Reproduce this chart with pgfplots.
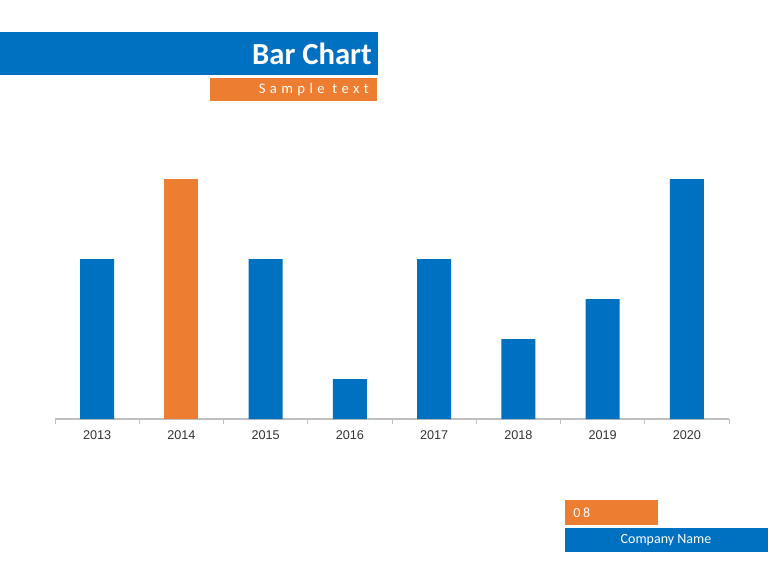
\documentclass[border=0pt]{standalone}
\usepackage{pgfplots}
\pgfplotsset{compat=1.18}
\usepackage{fontspec}
\setmainfont{Carlito}
\newfontfamily\arial{Liberation Sans}
\definecolor{cblue}{RGB}{0,112,192}
\definecolor{corange}{RGB}{237,125,49}
\definecolor{axgray}{RGB}{191,191,191}
\begin{document}
\begin{tikzpicture}
\begin{scope}[x=0.75pt,y=0.75pt]
\fill[white] (0,0) rectangle (768,576);
% header
\fill[cblue] (0,501) rectangle (378,544);
\node[anchor=east,text=white,font=\fontsize{23}{26}\selectfont\bfseries,inner sep=0pt] at (372,522) {Bar Chart};
\fill[corange] (210,475) rectangle (377,498);
\node[anchor=east,text=white,font=\fontsize{11}{12}\selectfont\addfontfeature{LetterSpace=30},inner sep=0pt] at (369,486) {Sample text};
% footer
\fill[corange] (565,51) rectangle (658,76);
\node[anchor=west,text=white,font=\fontsize{10.5}{12}\selectfont\addfontfeature{LetterSpace=20},inner sep=0pt] at (573,63) {08};
\fill[cblue] (565,24) rectangle (768,48);
\node[text=white,font=\fontsize{10.5}{12}\selectfont,inner sep=0pt] at (666,36) {Company Name};
\end{scope}
\begin{axis}[
  at={(41.25pt,117.75pt)}, anchor=south west,
  scale only axis, width=505.5pt, height=180pt,
  xmin=-0.5, xmax=7.5, ymin=0, ymax=6,
  axis x line*=bottom, axis y line=none,
  x axis line style={axgray, line width=0.8pt},
  xtick={0,...,7},
  xticklabels={2013,2014,2015,2016,2017,2018,2019,2020},
  major x tick style={draw=none},
  minor xtick={-0.5,0.5,...,7.5},
  minor tick length=4pt,
  minor x tick style={axgray, line width=0.6pt},
  tick align=outside,
  ytick=\empty,
  xticklabel style={font=\arial\fontsize{9.5}{11}\selectfont, text=black!80, yshift=-1pt},
  ybar, bar width=25.5pt, bar shift=0pt,
  clip=false,
]
\addplot[fill=cblue, draw=none] coordinates {(0,4) (2,4) (3,1) (4,4) (5,2) (6,3) (7,6)};
\addplot[fill=corange, draw=none] coordinates {(1,6)};
\end{axis}
\end{tikzpicture}
\end{document}
